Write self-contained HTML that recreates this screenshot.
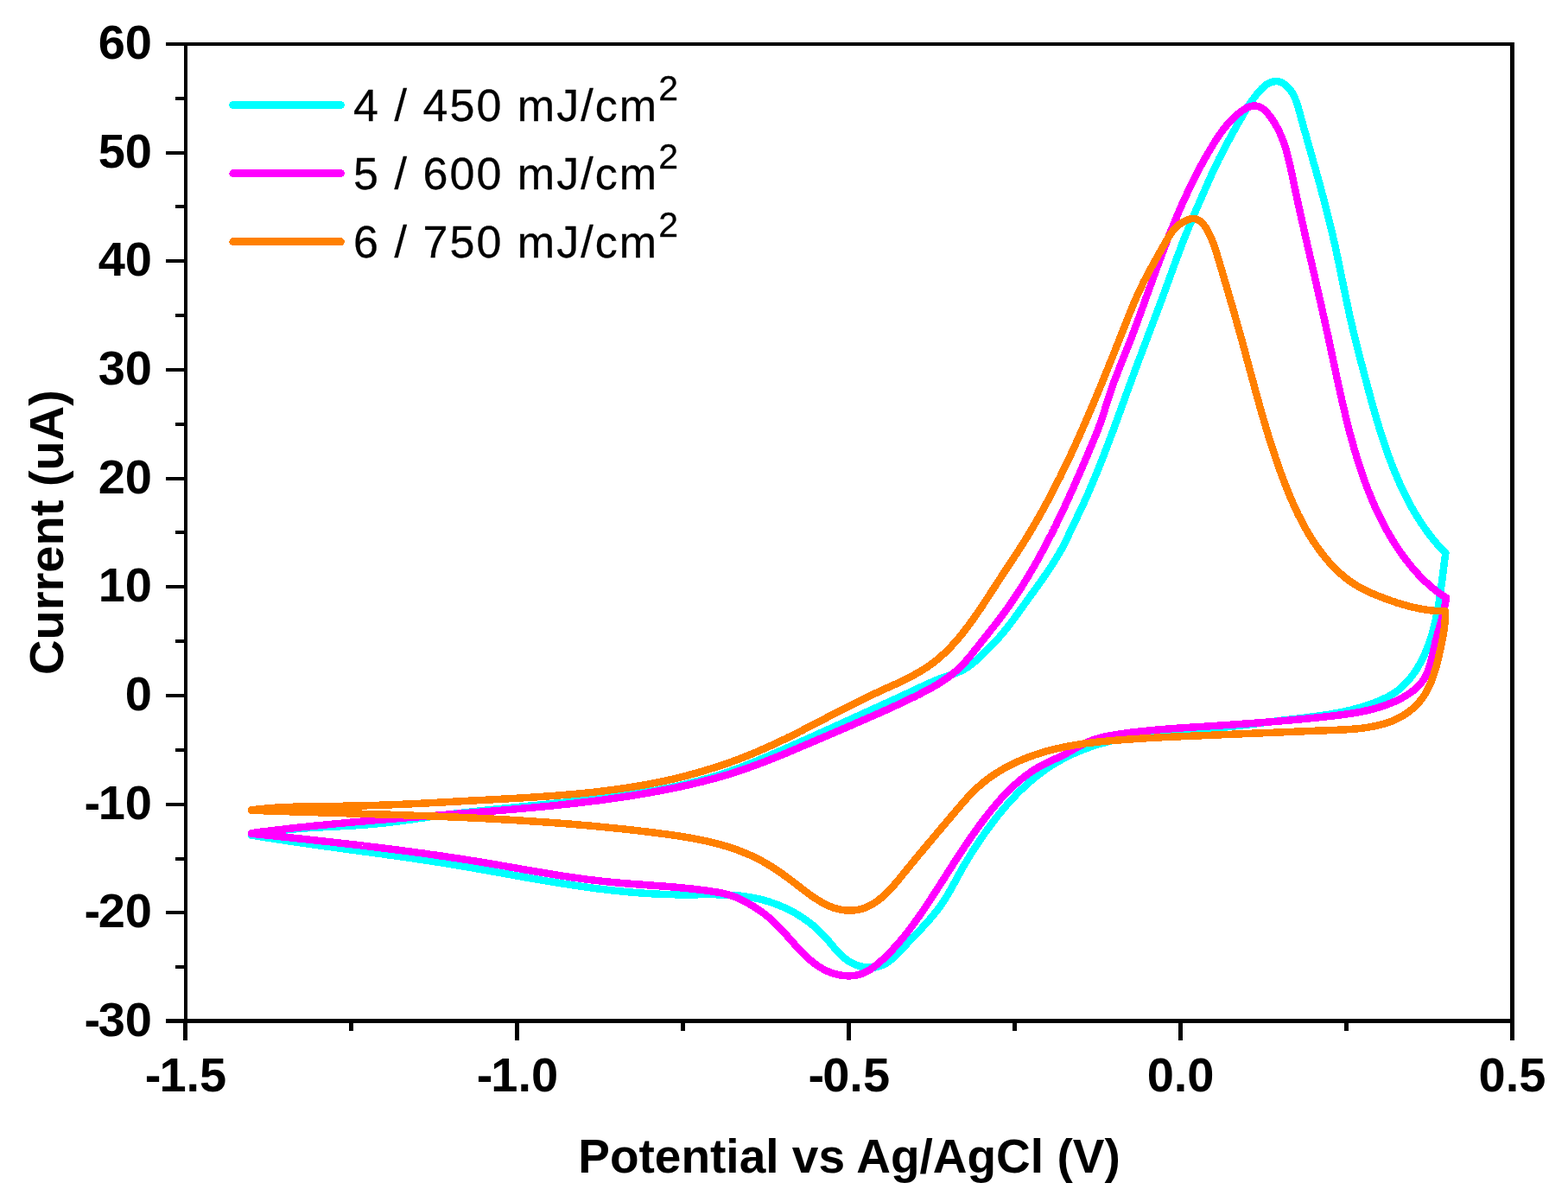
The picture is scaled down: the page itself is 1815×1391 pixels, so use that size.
<!DOCTYPE html><html><head><meta charset="utf-8"><title>CV plot</title><style>html,body{margin:0;padding:0;background:#fff;}svg{display:block;}text{font-family:"Liberation Sans",Arial,sans-serif;}</style></head><body>
<svg width="1815" height="1391" viewBox="0 0 1815 1391">
<rect x="0" y="0" width="1815" height="1391" fill="#fff"/>
<path d="M291.0 967.0 L293.9 966.4 L296.9 965.7 L299.9 965.1 L302.8 964.6 L305.8 964.0 L308.7 963.5 L311.7 963.0 L314.7 962.5 L317.6 962.1 L320.6 961.7 L323.6 961.3 L326.6 960.9 L329.5 960.6 L332.5 960.3 L335.5 960.0 L338.5 959.7 L341.5 959.4 L344.5 959.1 L347.5 958.9 L350.5 958.7 L353.5 958.4 L356.5 958.2 L359.5 958.0 L362.5 957.9 L365.5 957.7 L368.5 957.5 L371.5 957.4 L374.5 957.2 L377.5 957.0 L380.5 956.9 L383.5 956.7 L386.5 956.6 L389.5 956.5 L392.5 956.3 L395.5 956.2 L398.5 956.0 L401.5 955.8 L404.5 955.7 L407.5 955.5 L410.5 955.3 L413.5 955.2 L416.5 955.0 L419.5 954.8 L422.5 954.5 L425.5 954.3 L428.5 954.1 L431.5 953.8 L434.5 953.5 L437.5 953.2 L440.5 952.9 L443.4 952.6 L446.4 952.3 L449.4 951.9 L452.4 951.6 L455.4 951.2 L458.4 950.8 L461.3 950.4 L464.3 950.0 L467.3 949.6 L470.3 949.2 L473.2 948.8 L476.2 948.4 L479.2 948.0 L482.2 947.5 L485.1 947.1 L488.1 946.7 L491.1 946.3 L494.1 945.9 L497.1 945.4 L500.0 945.0 L503.0 944.6 L506.0 944.2 L509.0 943.8 L511.9 943.5 L514.9 943.1 L517.9 942.7 L520.9 942.3 L523.9 942.0 L526.8 941.6 L529.8 941.3 L532.8 940.9 L535.8 940.6 L538.8 940.2 L541.8 939.9 L544.7 939.5 L547.7 939.2 L550.7 938.9 L553.7 938.6 L556.7 938.2 L559.7 937.9 L562.7 937.6 L565.6 937.3 L568.6 937.0 L571.6 936.7 L574.6 936.4 L577.6 936.1 L580.6 935.8 L583.6 935.5 L586.6 935.2 L589.5 934.9 L592.5 934.6 L595.5 934.3 L598.5 934.0 L601.5 933.7 L604.5 933.4 L607.5 933.1 L610.5 932.8 L613.5 932.5 L616.4 932.3 L619.4 932.0 L622.4 931.7 L625.4 931.4 L628.4 931.1 L631.4 930.8 L634.4 930.5 L637.4 930.2 L640.4 929.9 L643.3 929.6 L646.3 929.3 L649.3 929.0 L652.3 928.7 L655.3 928.4 L658.3 928.1 L661.3 927.7 L664.3 927.4 L667.3 927.1 L670.2 926.8 L673.2 926.5 L676.2 926.1 L679.2 925.8 L682.2 925.4 L685.2 925.1 L688.2 924.8 L691.2 924.4 L694.1 924.1 L697.1 923.7 L700.1 923.3 L703.1 923.0 L706.1 922.6 L709.1 922.2 L712.0 921.8 L715.0 921.4 L718.0 921.0 L721.0 920.6 L724.0 920.2 L726.9 919.8 L729.9 919.3 L732.9 918.9 L735.9 918.4 L738.8 918.0 L741.8 917.5 L744.8 917.0 L747.7 916.5 L750.7 916.0 L753.7 915.5 L756.6 915.0 L759.6 914.5 L762.5 913.9 L765.5 913.4 L768.4 912.8 L771.4 912.2 L774.3 911.7 L777.2 911.0 L780.2 910.4 L783.1 909.8 L786.0 909.2 L789.0 908.5 L791.9 907.8 L794.8 907.2 L797.7 906.5 L800.6 905.7 L803.5 905.0 L806.4 904.3 L809.3 903.5 L812.2 902.7 L815.1 901.9 L818.0 901.1 L820.9 900.3 L823.7 899.5 L826.6 898.6 L829.5 897.7 L832.3 896.8 L835.2 895.9 L838.0 895.0 L840.9 894.0 L843.7 893.0 L846.5 892.0 L849.4 891.0 L852.2 890.0 L855.0 888.9 L857.8 887.9 L860.6 886.8 L863.4 885.7 L866.2 884.6 L869.0 883.4 L871.8 882.3 L874.6 881.2 L877.4 880.0 L880.2 878.8 L882.9 877.7 L885.7 876.5 L888.5 875.3 L891.2 874.1 L894.0 872.9 L896.8 871.7 L899.5 870.5 L902.3 869.3 L905.0 868.1 L907.8 866.9 L910.6 865.6 L913.3 864.4 L916.0 863.2 L918.8 862.0 L921.5 860.8 L924.3 859.6 L927.0 858.3 L929.8 857.1 L932.5 855.9 L935.2 854.7 L938.0 853.4 L940.7 852.2 L943.5 851.0 L946.2 849.7 L948.9 848.5 L951.7 847.3 L954.4 846.1 L957.1 844.8 L959.9 843.6 L962.6 842.3 L965.3 841.1 L968.1 839.9 L970.8 838.6 L973.5 837.4 L976.2 836.2 L979.0 834.9 L981.7 833.7 L984.4 832.4 L987.2 831.2 L989.9 830.0 L992.6 828.7 L995.4 827.5 L998.1 826.2 L1000.8 825.0 L1003.6 823.8 L1006.3 822.5 L1009.0 821.3 L1011.8 820.0 L1014.5 818.8 L1017.2 817.5 L1020.0 816.3 L1022.7 815.1 L1025.5 813.8 L1028.2 812.6 L1030.9 811.3 L1033.7 810.1 L1036.4 808.8 L1039.1 807.6 L1041.9 806.3 L1044.6 805.0 L1047.3 803.8 L1050.1 802.5 L1052.8 801.2 L1055.5 800.0 L1058.2 798.7 L1060.9 797.4 L1063.6 796.1 L1066.3 794.8 L1069.1 793.6 L1071.8 792.3 L1074.5 791.1 L1077.3 789.9 L1080.0 788.7 L1082.8 787.5 L1085.6 786.4 L1088.4 785.3 L1091.3 784.3 L1094.1 783.3 L1097.0 782.4 L1099.9 781.4 L1102.7 780.4 L1105.6 779.3 L1108.3 778.2 L1111.1 777.0 L1113.8 775.8 L1116.4 774.4 L1118.9 772.9 L1121.4 771.3 L1123.7 769.5 L1126.0 767.7 L1128.3 765.7 L1130.5 763.7 L1132.7 761.6 L1134.9 759.5 L1137.0 757.3 L1139.2 755.2 L1141.4 753.0 L1143.6 750.9 L1145.8 748.8 L1148.0 746.7 L1150.1 744.5 L1152.2 742.3 L1154.3 740.1 L1156.3 737.9 L1158.2 735.6 L1160.2 733.3 L1162.1 731.0 L1164.0 728.7 L1165.8 726.4 L1167.7 724.0 L1169.5 721.7 L1171.3 719.3 L1173.1 716.9 L1174.8 714.5 L1176.6 712.1 L1178.4 709.6 L1180.1 707.2 L1181.8 704.8 L1183.6 702.3 L1185.3 699.9 L1187.1 697.5 L1188.8 695.0 L1190.6 692.6 L1192.3 690.1 L1194.1 687.7 L1195.9 685.3 L1197.7 682.8 L1199.4 680.4 L1201.2 677.9 L1202.9 675.5 L1204.7 673.0 L1206.4 670.6 L1208.2 668.1 L1209.9 665.6 L1211.6 663.1 L1213.3 660.6 L1214.9 658.1 L1216.6 655.6 L1218.2 653.1 L1219.8 650.6 L1221.4 648.0 L1223.0 645.5 L1224.5 642.9 L1226.0 640.3 L1227.5 637.7 L1229.0 635.1 L1230.4 632.5 L1231.8 629.8 L1233.1 627.1 L1234.4 624.5 L1235.7 621.8 L1237.0 619.1 L1238.2 616.3 L1239.5 613.6 L1240.8 610.9 L1242.1 608.2 L1243.4 605.5 L1244.7 602.8 L1246.0 600.1 L1247.3 597.4 L1248.6 594.7 L1249.9 592.0 L1251.2 589.3 L1252.5 586.6 L1253.7 583.9 L1255.0 581.1 L1256.2 578.4 L1257.4 575.6 L1258.6 572.9 L1259.9 570.2 L1261.0 567.4 L1262.2 564.6 L1263.4 561.9 L1264.6 559.1 L1265.7 556.4 L1266.9 553.6 L1268.0 550.8 L1269.2 548.0 L1270.3 545.3 L1271.4 542.5 L1272.6 539.7 L1273.7 536.9 L1274.8 534.1 L1275.9 531.3 L1277.0 528.5 L1278.1 525.7 L1279.1 522.9 L1280.2 520.1 L1281.3 517.3 L1282.3 514.5 L1283.4 511.7 L1284.5 508.9 L1285.5 506.1 L1286.6 503.2 L1287.6 500.4 L1288.7 497.6 L1289.7 494.8 L1290.7 492.0 L1291.8 489.1 L1292.8 486.3 L1293.8 483.5 L1294.9 480.7 L1295.9 477.8 L1296.9 475.0 L1298.0 472.2 L1299.0 469.4 L1300.0 466.5 L1301.0 463.7 L1302.1 460.9 L1303.1 458.1 L1304.1 455.2 L1305.1 452.4 L1306.2 449.6 L1307.2 446.8 L1308.2 443.9 L1309.3 441.1 L1310.3 438.3 L1311.3 435.5 L1312.4 432.7 L1313.4 429.8 L1314.4 427.0 L1315.5 424.2 L1316.5 421.4 L1317.6 418.6 L1318.6 415.8 L1319.7 413.0 L1320.8 410.2 L1321.8 407.3 L1322.9 404.5 L1323.9 401.7 L1325.0 398.9 L1326.1 396.1 L1327.1 393.3 L1328.2 390.5 L1329.2 387.7 L1330.3 384.9 L1331.4 382.1 L1332.4 379.3 L1333.5 376.5 L1334.6 373.7 L1335.6 370.8 L1336.7 368.0 L1337.7 365.2 L1338.8 362.4 L1339.9 359.6 L1340.9 356.8 L1342.0 354.0 L1343.0 351.2 L1344.1 348.4 L1345.1 345.5 L1346.2 342.7 L1347.2 339.9 L1348.2 337.1 L1349.3 334.3 L1350.3 331.5 L1351.3 328.6 L1352.3 325.8 L1353.4 323.0 L1354.4 320.2 L1355.4 317.3 L1356.4 314.5 L1357.5 311.7 L1358.5 308.9 L1359.5 306.1 L1360.5 303.2 L1361.6 300.4 L1362.6 297.6 L1363.7 294.8 L1364.7 292.0 L1365.8 289.2 L1366.8 286.3 L1367.9 283.5 L1369.0 280.7 L1370.1 277.9 L1371.2 275.1 L1372.3 272.3 L1373.4 269.6 L1374.6 266.8 L1375.7 264.0 L1376.8 261.2 L1378.0 258.4 L1379.2 255.7 L1380.3 252.9 L1381.5 250.1 L1382.7 247.4 L1383.8 244.6 L1385.0 241.8 L1386.2 239.1 L1387.4 236.3 L1388.6 233.6 L1389.8 230.8 L1391.0 228.1 L1392.2 225.3 L1393.4 222.6 L1394.6 219.8 L1395.8 217.1 L1397.0 214.4 L1398.2 211.6 L1399.4 208.9 L1400.6 206.2 L1401.8 203.4 L1403.1 200.7 L1404.3 198.0 L1405.6 195.3 L1406.9 192.5 L1408.2 189.8 L1409.5 187.1 L1410.8 184.4 L1412.2 181.7 L1413.6 179.0 L1414.9 176.4 L1416.3 173.7 L1417.7 171.0 L1419.1 168.3 L1420.5 165.7 L1421.9 163.0 L1423.4 160.4 L1424.8 157.7 L1426.3 155.1 L1427.7 152.5 L1429.2 149.8 L1430.7 147.2 L1432.1 144.6 L1433.6 142.0 L1435.1 139.4 L1436.6 136.9 L1438.0 134.3 L1439.5 131.7 L1441.1 129.2 L1442.6 126.7 L1444.2 124.1 L1445.8 121.6 L1447.4 119.1 L1449.1 116.6 L1450.9 114.2 L1452.7 111.7 L1454.6 109.3 L1456.6 106.9 L1458.6 104.5 L1460.8 102.2 L1463.1 100.1 L1465.5 98.2 L1468.1 96.6 L1470.8 95.3 L1473.6 94.5 L1476.3 94.1 L1479.1 94.2 L1481.7 94.8 L1484.3 95.9 L1486.7 97.4 L1489.0 99.2 L1491.2 101.3 L1493.2 103.7 L1495.0 106.2 L1496.6 108.8 L1498.0 111.5 L1499.2 114.2 L1500.3 117.0 L1501.3 119.9 L1502.2 122.8 L1503.1 125.7 L1503.9 128.6 L1504.7 131.5 L1505.5 134.4 L1506.3 137.3 L1507.1 140.3 L1507.9 143.2 L1508.7 146.1 L1509.5 149.0 L1510.3 151.9 L1511.2 154.8 L1512.0 157.7 L1512.8 160.6 L1513.6 163.5 L1514.4 166.4 L1515.2 169.3 L1516.1 172.2 L1516.9 175.1 L1517.7 178.0 L1518.5 180.9 L1519.3 183.7 L1520.1 186.6 L1520.9 189.5 L1521.8 192.4 L1522.6 195.3 L1523.4 198.2 L1524.2 201.1 L1525.0 204.0 L1525.8 206.9 L1526.6 209.8 L1527.4 212.6 L1528.2 215.5 L1528.9 218.4 L1529.7 221.3 L1530.5 224.2 L1531.3 227.1 L1532.1 230.0 L1532.8 232.9 L1533.6 235.8 L1534.3 238.7 L1535.1 241.6 L1535.8 244.5 L1536.6 247.4 L1537.3 250.3 L1538.0 253.2 L1538.8 256.1 L1539.5 259.0 L1540.2 261.9 L1540.9 264.8 L1541.6 267.8 L1542.3 270.7 L1542.9 273.6 L1543.6 276.5 L1544.3 279.4 L1544.9 282.4 L1545.6 285.3 L1546.2 288.2 L1546.9 291.2 L1547.5 294.1 L1548.1 297.1 L1548.7 300.0 L1549.3 302.9 L1550.0 305.9 L1550.6 308.8 L1551.2 311.8 L1551.8 314.7 L1552.4 317.7 L1553.0 320.6 L1553.6 323.6 L1554.2 326.5 L1554.8 329.5 L1555.4 332.4 L1556.0 335.4 L1556.6 338.3 L1557.2 341.3 L1557.8 344.2 L1558.4 347.1 L1559.1 350.1 L1559.7 353.0 L1560.3 356.0 L1561.0 358.9 L1561.6 361.8 L1562.2 364.8 L1562.9 367.7 L1563.6 370.6 L1564.2 373.6 L1564.9 376.5 L1565.6 379.4 L1566.3 382.3 L1567.0 385.3 L1567.7 388.2 L1568.4 391.1 L1569.1 394.0 L1569.8 396.9 L1570.6 399.8 L1571.3 402.7 L1572.0 405.7 L1572.8 408.6 L1573.5 411.5 L1574.3 414.4 L1575.0 417.3 L1575.8 420.2 L1576.6 423.1 L1577.3 426.0 L1578.1 428.9 L1578.8 431.8 L1579.6 434.7 L1580.4 437.6 L1581.2 440.5 L1581.9 443.4 L1582.7 446.3 L1583.5 449.2 L1584.3 452.1 L1585.0 455.0 L1585.8 457.9 L1586.6 460.8 L1587.4 463.7 L1588.2 466.6 L1589.0 469.5 L1589.8 472.4 L1590.7 475.3 L1591.5 478.2 L1592.3 481.1 L1593.2 484.0 L1594.0 486.8 L1594.9 489.7 L1595.7 492.6 L1596.6 495.5 L1597.5 498.3 L1598.4 501.2 L1599.3 504.1 L1600.2 506.9 L1601.2 509.8 L1602.1 512.6 L1603.1 515.5 L1604.0 518.3 L1605.0 521.1 L1606.0 524.0 L1607.0 526.8 L1608.1 529.6 L1609.1 532.4 L1610.2 535.2 L1611.3 538.0 L1612.4 540.8 L1613.5 543.6 L1614.6 546.4 L1615.8 549.2 L1616.9 551.9 L1618.1 554.7 L1619.3 557.5 L1620.5 560.2 L1621.8 562.9 L1623.1 565.7 L1624.4 568.4 L1625.7 571.1 L1627.0 573.8 L1628.4 576.5 L1629.7 579.1 L1631.1 581.8 L1632.6 584.4 L1634.0 587.1 L1635.5 589.7 L1637.0 592.3 L1638.5 594.9 L1640.1 597.4 L1641.7 600.0 L1643.3 602.5 L1644.9 605.0 L1646.6 607.5 L1648.3 610.0 L1650.0 612.4 L1651.8 614.9 L1653.6 617.3 L1655.4 619.7 L1657.2 622.0 L1659.1 624.4 L1661.0 626.7 L1663.0 629.0 L1664.9 631.2 L1666.9 633.5 L1669.0 635.7 L1671.1 637.9 L1673.4 640.1 L1672.9 643.1 L1672.5 646.0 L1672.1 648.9 L1671.7 651.8 L1671.4 654.8 L1671.0 657.8 L1670.6 660.7 L1670.2 663.7 L1669.9 666.7 L1669.5 669.7 L1669.1 672.7 L1668.7 675.7 L1668.3 678.7 L1667.9 681.7 L1667.5 684.7 L1667.1 687.7 L1666.6 690.7 L1666.2 693.7 L1665.7 696.7 L1665.2 699.7 L1664.7 702.6 L1664.2 705.6 L1663.6 708.6 L1663.0 711.6 L1662.4 714.5 L1661.8 717.5 L1661.1 720.4 L1660.4 723.4 L1659.7 726.3 L1658.9 729.2 L1658.1 732.1 L1657.3 735.0 L1656.4 737.9 L1655.5 740.7 L1654.5 743.6 L1653.5 746.4 L1652.4 749.2 L1651.3 752.0 L1650.1 754.7 L1648.9 757.4 L1647.7 760.2 L1646.3 762.9 L1645.0 765.5 L1643.5 768.2 L1642.0 770.8 L1640.5 773.4 L1638.8 775.9 L1637.2 778.4 L1635.4 780.9 L1633.6 783.3 L1631.7 785.6 L1629.8 787.9 L1627.7 790.1 L1625.7 792.3 L1623.5 794.3 L1621.3 796.3 L1619.0 798.2 L1616.6 800.1 L1614.2 801.8 L1611.6 803.4 L1609.0 804.9 L1606.4 806.4 L1603.7 807.7 L1600.9 809.0 L1598.2 810.3 L1595.4 811.4 L1592.6 812.6 L1589.7 813.7 L1586.9 814.7 L1584.1 815.7 L1581.2 816.6 L1578.3 817.6 L1575.5 818.4 L1572.6 819.3 L1569.7 820.1 L1566.8 820.8 L1563.9 821.6 L1560.9 822.3 L1558.0 822.9 L1555.1 823.6 L1552.1 824.2 L1549.2 824.8 L1546.2 825.3 L1543.3 825.8 L1540.3 826.4 L1537.3 826.9 L1534.3 827.3 L1531.3 827.8 L1528.4 828.2 L1525.4 828.6 L1522.4 829.1 L1519.4 829.4 L1516.4 829.8 L1513.4 830.2 L1510.4 830.6 L1507.4 830.9 L1504.4 831.3 L1501.4 831.7 L1498.4 832.0 L1495.4 832.3 L1492.4 832.7 L1489.4 833.1 L1486.4 833.4 L1483.4 833.8 L1480.4 834.1 L1477.4 834.5 L1474.5 834.8 L1471.5 835.2 L1468.5 835.6 L1465.5 836.0 L1462.5 836.3 L1459.6 836.7 L1456.6 837.1 L1453.6 837.4 L1450.6 837.8 L1447.7 838.2 L1444.7 838.5 L1441.7 838.9 L1438.7 839.2 L1435.8 839.6 L1432.8 840.0 L1429.8 840.3 L1426.8 840.6 L1423.8 841.0 L1420.9 841.3 L1417.9 841.7 L1414.9 842.0 L1411.9 842.3 L1408.9 842.6 L1405.9 842.9 L1402.9 843.2 L1399.9 843.5 L1396.9 843.8 L1393.9 844.1 L1390.9 844.4 L1387.9 844.6 L1384.9 844.9 L1381.9 845.2 L1378.9 845.4 L1375.9 845.7 L1372.8 845.9 L1369.8 846.1 L1366.8 846.4 L1363.8 846.6 L1360.8 846.9 L1357.8 847.1 L1354.7 847.4 L1351.7 847.7 L1348.7 848.0 L1345.7 848.2 L1342.7 848.5 L1339.7 848.8 L1336.7 849.1 L1333.7 849.5 L1330.7 849.8 L1327.7 850.2 L1324.7 850.5 L1321.7 850.9 L1318.7 851.3 L1315.7 851.8 L1312.7 852.2 L1309.8 852.7 L1306.8 853.2 L1303.8 853.7 L1300.9 854.3 L1297.9 854.8 L1295.0 855.4 L1292.0 856.1 L1289.1 856.7 L1286.2 857.4 L1283.3 858.1 L1280.4 858.9 L1277.5 859.7 L1274.6 860.5 L1271.7 861.3 L1268.8 862.2 L1266.0 863.1 L1263.1 864.1 L1260.3 865.1 L1257.5 866.1 L1254.7 867.2 L1251.9 868.3 L1249.1 869.4 L1246.3 870.6 L1243.6 871.8 L1240.9 873.0 L1238.1 874.3 L1235.5 875.6 L1232.8 877.0 L1230.1 878.4 L1227.5 879.8 L1224.9 881.3 L1222.3 882.8 L1219.7 884.3 L1217.2 885.9 L1214.7 887.5 L1212.2 889.2 L1209.7 890.9 L1207.3 892.6 L1204.9 894.4 L1202.5 896.2 L1200.1 898.0 L1197.8 899.9 L1195.5 901.8 L1193.2 903.8 L1190.9 905.8 L1188.6 907.8 L1186.4 909.8 L1184.2 911.9 L1182.0 914.0 L1179.9 916.1 L1177.7 918.2 L1175.6 920.4 L1173.5 922.6 L1171.5 924.8 L1169.4 927.1 L1167.4 929.3 L1165.4 931.6 L1163.4 933.9 L1161.5 936.2 L1159.5 938.5 L1157.6 940.9 L1155.7 943.2 L1153.8 945.6 L1151.9 948.0 L1150.1 950.4 L1148.3 952.8 L1146.4 955.2 L1144.7 957.6 L1142.9 960.0 L1141.1 962.5 L1139.4 964.9 L1137.7 967.4 L1136.0 969.8 L1134.3 972.3 L1132.6 974.8 L1131.0 977.2 L1129.3 979.7 L1127.7 982.2 L1126.1 984.7 L1124.5 987.3 L1122.9 989.8 L1121.4 992.3 L1119.8 994.9 L1118.3 997.5 L1116.7 1000.0 L1115.2 1002.6 L1113.7 1005.2 L1112.3 1007.8 L1110.8 1010.5 L1109.3 1013.1 L1107.9 1015.8 L1106.4 1018.4 L1105.0 1021.1 L1103.6 1023.8 L1102.1 1026.4 L1100.6 1029.1 L1099.1 1031.7 L1097.6 1034.3 L1096.1 1036.9 L1094.5 1039.4 L1092.9 1042.0 L1091.3 1044.5 L1089.6 1046.9 L1087.9 1049.4 L1086.1 1051.7 L1084.3 1054.1 L1082.4 1056.4 L1080.6 1058.7 L1078.7 1061.0 L1076.7 1063.3 L1074.8 1065.5 L1072.8 1067.8 L1070.8 1070.0 L1068.7 1072.2 L1066.7 1074.4 L1064.6 1076.6 L1062.5 1078.8 L1060.4 1081.0 L1058.3 1083.2 L1056.2 1085.5 L1054.1 1087.7 L1051.9 1089.9 L1049.8 1092.2 L1047.6 1094.5 L1045.5 1096.8 L1043.4 1099.1 L1041.2 1101.4 L1039.0 1103.6 L1036.8 1105.8 L1034.6 1107.9 L1032.3 1109.9 L1030.0 1111.8 L1027.6 1113.5 L1025.1 1115.1 L1022.5 1116.4 L1019.9 1117.5 L1017.2 1118.4 L1014.4 1119.1 L1011.6 1119.5 L1008.7 1119.7 L1005.8 1119.7 L1002.8 1119.5 L999.9 1119.1 L997.0 1118.5 L994.1 1117.8 L991.3 1116.8 L988.5 1115.7 L985.8 1114.3 L983.2 1112.9 L980.7 1111.2 L978.3 1109.4 L976.0 1107.5 L973.7 1105.5 L971.6 1103.4 L969.5 1101.1 L967.5 1098.9 L965.4 1096.5 L963.5 1094.2 L961.5 1091.8 L959.5 1089.4 L957.5 1087.1 L955.4 1084.8 L953.4 1082.5 L951.2 1080.3 L949.1 1078.2 L946.8 1076.1 L944.6 1074.0 L942.3 1072.0 L940.0 1070.1 L937.6 1068.2 L935.2 1066.4 L932.7 1064.6 L930.3 1062.9 L927.8 1061.2 L925.2 1059.6 L922.7 1058.0 L920.1 1056.5 L917.4 1055.0 L914.8 1053.6 L912.1 1052.3 L909.4 1051.0 L906.7 1049.8 L903.9 1048.6 L901.1 1047.4 L898.4 1046.4 L895.5 1045.3 L892.7 1044.4 L889.9 1043.4 L887.0 1042.6 L884.1 1041.8 L881.2 1041.0 L878.3 1040.3 L875.4 1039.7 L872.5 1039.1 L869.6 1038.5 L866.6 1038.0 L863.7 1037.6 L860.7 1037.2 L857.8 1036.8 L854.8 1036.5 L851.8 1036.3 L848.9 1036.0 L845.9 1035.8 L842.9 1035.7 L839.9 1035.5 L836.9 1035.4 L833.9 1035.3 L830.9 1035.3 L827.8 1035.2 L824.8 1035.2 L821.8 1035.2 L818.8 1035.2 L815.8 1035.2 L812.7 1035.2 L809.7 1035.2 L806.7 1035.3 L803.6 1035.3 L800.6 1035.3 L797.6 1035.3 L794.6 1035.4 L791.5 1035.4 L788.5 1035.4 L785.5 1035.3 L782.5 1035.3 L779.4 1035.2 L776.4 1035.2 L773.4 1035.1 L770.4 1035.0 L767.4 1034.9 L764.4 1034.8 L761.3 1034.6 L758.3 1034.5 L755.3 1034.3 L752.3 1034.2 L749.3 1034.0 L746.3 1033.8 L743.3 1033.6 L740.3 1033.4 L737.3 1033.1 L734.3 1032.9 L731.3 1032.6 L728.3 1032.4 L725.3 1032.1 L722.3 1031.8 L719.3 1031.5 L716.4 1031.2 L713.4 1030.9 L710.4 1030.6 L707.4 1030.3 L704.4 1029.9 L701.4 1029.6 L698.4 1029.2 L695.5 1028.8 L692.5 1028.5 L689.5 1028.1 L686.5 1027.7 L683.5 1027.3 L680.6 1026.9 L677.6 1026.5 L674.6 1026.0 L671.6 1025.6 L668.7 1025.2 L665.7 1024.7 L662.7 1024.3 L659.7 1023.8 L656.8 1023.4 L653.8 1022.9 L650.8 1022.5 L647.9 1022.0 L644.9 1021.5 L641.9 1021.0 L639.0 1020.5 L636.0 1020.0 L633.0 1019.6 L630.1 1019.1 L627.1 1018.6 L624.1 1018.0 L621.2 1017.5 L618.2 1017.0 L615.2 1016.5 L612.3 1016.0 L609.3 1015.5 L606.3 1015.0 L603.4 1014.4 L600.4 1013.9 L597.4 1013.4 L594.5 1012.9 L591.5 1012.3 L588.5 1011.8 L585.6 1011.3 L582.6 1010.7 L579.7 1010.2 L576.7 1009.7 L573.7 1009.2 L570.8 1008.6 L567.8 1008.1 L564.8 1007.6 L561.9 1007.0 L558.9 1006.5 L555.9 1006.0 L553.0 1005.5 L550.0 1005.0 L547.0 1004.4 L544.1 1003.9 L541.1 1003.4 L538.1 1002.9 L535.2 1002.4 L532.2 1001.9 L529.2 1001.4 L526.3 1000.9 L523.3 1000.4 L520.3 999.9 L517.4 999.4 L514.4 999.0 L511.4 998.5 L508.4 998.0 L505.5 997.5 L502.5 997.1 L499.5 996.6 L496.5 996.2 L493.6 995.7 L490.6 995.3 L487.6 994.8 L484.6 994.4 L481.7 993.9 L478.7 993.5 L475.7 993.1 L472.7 992.6 L469.8 992.2 L466.8 991.8 L463.8 991.4 L460.8 990.9 L457.8 990.5 L454.9 990.1 L451.9 989.7 L448.9 989.3 L445.9 988.9 L442.9 988.4 L440.0 988.0 L437.0 987.6 L434.0 987.2 L431.0 986.8 L428.0 986.4 L425.1 986.0 L422.1 985.6 L419.1 985.2 L416.1 984.8 L413.1 984.4 L410.1 984.0 L407.2 983.6 L404.2 983.2 L401.2 982.8 L398.2 982.4 L395.2 982.0 L392.3 981.6 L389.3 981.1 L386.3 980.7 L383.3 980.3 L380.3 979.9 L377.3 979.5 L374.4 979.1 L371.4 978.7 L368.4 978.3 L365.4 977.9 L362.4 977.4 L359.5 977.0 L356.5 976.6 L353.5 976.2 L350.5 975.7 L347.6 975.3 L344.6 974.9 L341.6 974.5 L338.6 974.0 L335.6 973.6 L332.7 973.1 L329.7 972.7 L326.7 972.2 L323.7 971.8 L320.8 971.3 L317.8 970.9 L314.8 970.4 L311.9 969.9 L308.9 969.5 L305.9 969.0 L302.9 968.5 L300.0 968.0 L297.0 967.5 L294.0 967.0 L291.1 966.5" fill="none" stroke="#00ffff" stroke-width="8.5" stroke-linejoin="round" stroke-linecap="round" shape-rendering="crispEdges"/>
<path d="M290.9 964.2 L293.9 963.8 L296.9 963.4 L299.9 963.0 L302.9 962.6 L305.9 962.3 L308.9 961.9 L311.9 961.5 L314.8 961.2 L317.8 960.8 L320.8 960.5 L323.8 960.1 L326.8 959.8 L329.8 959.4 L332.8 959.1 L335.8 958.7 L338.8 958.4 L341.7 958.1 L344.7 957.7 L347.7 957.4 L350.7 957.1 L353.7 956.8 L356.7 956.5 L359.7 956.2 L362.7 955.9 L365.7 955.5 L368.7 955.2 L371.6 954.9 L374.6 954.7 L377.6 954.4 L380.6 954.1 L383.6 953.8 L386.6 953.5 L389.6 953.2 L392.6 952.9 L395.6 952.7 L398.6 952.4 L401.6 952.1 L404.6 951.8 L407.6 951.6 L410.6 951.3 L413.6 951.0 L416.5 950.8 L419.5 950.5 L422.5 950.3 L425.5 950.0 L428.5 949.8 L431.5 949.5 L434.5 949.2 L437.5 949.0 L440.5 948.7 L443.5 948.5 L446.5 948.3 L449.5 948.0 L452.5 947.8 L455.5 947.5 L458.5 947.3 L461.5 947.0 L464.5 946.8 L467.5 946.6 L470.5 946.3 L473.5 946.1 L476.5 945.9 L479.5 945.6 L482.5 945.4 L485.5 945.2 L488.5 944.9 L491.5 944.7 L494.5 944.5 L497.5 944.2 L500.5 944.0 L503.4 943.8 L506.4 943.5 L509.4 943.3 L512.4 943.1 L515.4 942.8 L518.4 942.6 L521.4 942.4 L524.4 942.1 L527.4 941.9 L530.4 941.7 L533.4 941.5 L536.4 941.2 L539.4 941.0 L542.4 940.8 L545.4 940.5 L548.4 940.3 L551.4 940.0 L554.4 939.8 L557.4 939.6 L560.4 939.3 L563.4 939.1 L566.4 938.9 L569.5 938.6 L572.5 938.4 L575.5 938.1 L578.5 937.9 L581.5 937.6 L584.5 937.4 L587.5 937.1 L590.5 936.9 L593.5 936.6 L596.5 936.4 L599.5 936.1 L602.5 935.8 L605.5 935.6 L608.5 935.3 L611.5 935.0 L614.5 934.8 L617.5 934.5 L620.5 934.2 L623.5 933.9 L626.4 933.7 L629.4 933.4 L632.4 933.1 L635.4 932.8 L638.4 932.5 L641.4 932.2 L644.4 931.9 L647.4 931.6 L650.4 931.2 L653.4 930.9 L656.4 930.6 L659.4 930.3 L662.4 929.9 L665.4 929.6 L668.4 929.3 L671.3 928.9 L674.3 928.6 L677.3 928.2 L680.3 927.9 L683.3 927.5 L686.3 927.1 L689.3 926.7 L692.2 926.4 L695.2 926.0 L698.2 925.6 L701.2 925.2 L704.2 924.8 L707.1 924.4 L710.1 923.9 L713.1 923.5 L716.1 923.1 L719.0 922.6 L722.0 922.2 L725.0 921.7 L728.0 921.3 L730.9 920.8 L733.9 920.3 L736.9 919.9 L739.8 919.4 L742.8 918.9 L745.8 918.4 L748.7 917.9 L751.7 917.4 L754.6 916.8 L757.6 916.3 L760.5 915.8 L763.5 915.2 L766.5 914.6 L769.4 914.1 L772.4 913.5 L775.3 912.9 L778.2 912.3 L781.2 911.7 L784.1 911.1 L787.1 910.5 L790.0 909.9 L793.0 909.2 L795.9 908.6 L798.8 907.9 L801.7 907.2 L804.7 906.5 L807.6 905.9 L810.5 905.1 L813.4 904.4 L816.3 903.7 L819.2 902.9 L822.2 902.2 L825.1 901.4 L827.9 900.6 L830.8 899.8 L833.7 899.0 L836.6 898.1 L839.5 897.3 L842.4 896.4 L845.2 895.5 L848.1 894.6 L851.0 893.7 L853.8 892.8 L856.7 891.8 L859.5 890.8 L862.4 889.9 L865.2 888.9 L868.0 887.9 L870.8 886.8 L873.7 885.8 L876.5 884.8 L879.3 883.7 L882.1 882.6 L884.9 881.6 L887.7 880.5 L890.5 879.4 L893.3 878.3 L896.1 877.2 L898.9 876.0 L901.7 874.9 L904.5 873.8 L907.3 872.6 L910.1 871.5 L912.9 870.3 L915.7 869.2 L918.4 868.0 L921.2 866.8 L924.0 865.7 L926.8 864.5 L929.5 863.3 L932.3 862.1 L935.1 860.9 L937.9 859.8 L940.6 858.6 L943.4 857.4 L946.2 856.2 L948.9 855.0 L951.7 853.8 L954.5 852.7 L957.2 851.5 L960.0 850.3 L962.8 849.1 L965.5 847.9 L968.3 846.7 L971.1 845.6 L973.8 844.4 L976.6 843.2 L979.4 842.0 L982.1 840.8 L984.9 839.6 L987.6 838.4 L990.4 837.2 L993.1 836.0 L995.9 834.8 L998.6 833.6 L1001.4 832.4 L1004.1 831.2 L1006.9 830.0 L1009.6 828.8 L1012.4 827.6 L1015.1 826.4 L1017.9 825.2 L1020.6 824.0 L1023.3 822.7 L1026.1 821.5 L1028.8 820.3 L1031.5 819.0 L1034.2 817.8 L1037.0 816.5 L1039.7 815.3 L1042.4 814.0 L1045.1 812.7 L1047.9 811.4 L1050.6 810.1 L1053.3 808.8 L1056.0 807.5 L1058.7 806.2 L1061.4 804.8 L1064.1 803.5 L1066.8 802.1 L1069.5 800.7 L1072.2 799.3 L1074.9 797.9 L1077.5 796.4 L1080.2 794.9 L1082.8 793.4 L1085.4 791.9 L1087.9 790.3 L1090.4 788.6 L1092.9 787.0 L1095.4 785.3 L1097.8 783.5 L1100.2 781.7 L1102.6 779.9 L1104.9 778.0 L1107.1 776.0 L1109.3 774.0 L1111.5 772.0 L1113.6 769.8 L1115.7 767.7 L1117.7 765.4 L1119.7 763.2 L1121.6 760.9 L1123.5 758.6 L1125.4 756.2 L1127.3 753.8 L1129.2 751.5 L1131.1 749.1 L1133.0 746.7 L1134.8 744.4 L1136.7 742.0 L1138.6 739.7 L1140.5 737.3 L1142.3 735.0 L1144.2 732.6 L1146.1 730.3 L1147.9 727.9 L1149.8 725.6 L1151.6 723.2 L1153.5 720.9 L1155.3 718.5 L1157.1 716.1 L1158.9 713.7 L1160.7 711.3 L1162.5 708.9 L1164.2 706.4 L1166.0 704.0 L1167.7 701.6 L1169.4 699.1 L1171.1 696.6 L1172.8 694.1 L1174.5 691.6 L1176.2 689.1 L1177.8 686.6 L1179.4 684.1 L1181.1 681.6 L1182.7 679.0 L1184.3 676.5 L1185.9 673.9 L1187.4 671.3 L1189.0 668.8 L1190.6 666.2 L1192.1 663.6 L1193.6 661.0 L1195.2 658.4 L1196.7 655.8 L1198.2 653.2 L1199.7 650.6 L1201.1 647.9 L1202.6 645.3 L1204.1 642.7 L1205.5 640.0 L1206.9 637.4 L1208.4 634.7 L1209.8 632.0 L1211.2 629.4 L1212.6 626.7 L1213.9 624.0 L1215.3 621.4 L1216.7 618.7 L1218.0 616.0 L1219.4 613.3 L1220.7 610.6 L1222.1 607.9 L1223.4 605.2 L1224.7 602.5 L1226.0 599.8 L1227.3 597.1 L1228.6 594.4 L1229.9 591.7 L1231.1 589.0 L1232.4 586.3 L1233.7 583.5 L1234.9 580.8 L1236.2 578.1 L1237.4 575.3 L1238.7 572.6 L1239.9 569.9 L1241.1 567.1 L1242.4 564.4 L1243.6 561.6 L1244.8 558.9 L1246.0 556.1 L1247.2 553.4 L1248.4 550.6 L1249.6 547.9 L1250.8 545.1 L1252.0 542.4 L1253.2 539.6 L1254.4 536.8 L1255.5 534.1 L1256.7 531.3 L1257.9 528.5 L1259.1 525.7 L1260.2 523.0 L1261.4 520.2 L1262.6 517.4 L1263.7 514.6 L1264.9 511.9 L1266.1 509.1 L1267.2 506.3 L1268.4 503.5 L1269.5 500.7 L1270.6 497.9 L1271.7 495.1 L1272.7 492.3 L1273.8 489.5 L1274.8 486.6 L1275.8 483.8 L1276.7 480.9 L1277.6 478.1 L1278.5 475.2 L1279.4 472.3 L1280.3 469.5 L1281.2 466.6 L1282.1 463.7 L1283.0 460.9 L1283.9 458.0 L1284.8 455.2 L1285.8 452.3 L1286.7 449.5 L1287.8 446.7 L1288.8 443.8 L1289.8 441.0 L1290.9 438.2 L1292.0 435.4 L1293.1 432.6 L1294.2 429.8 L1295.3 427.0 L1296.4 424.2 L1297.5 421.4 L1298.6 418.6 L1299.7 415.8 L1300.9 413.0 L1302.0 410.2 L1303.1 407.4 L1304.2 404.6 L1305.3 401.8 L1306.4 399.0 L1307.5 396.2 L1308.6 393.4 L1309.7 390.6 L1310.8 387.8 L1311.8 385.0 L1312.9 382.1 L1313.9 379.3 L1315.0 376.5 L1316.0 373.7 L1317.1 370.9 L1318.1 368.1 L1319.2 365.2 L1320.2 362.4 L1321.2 359.6 L1322.2 356.8 L1323.3 353.9 L1324.3 351.1 L1325.3 348.3 L1326.3 345.5 L1327.3 342.6 L1328.4 339.8 L1329.4 337.0 L1330.4 334.1 L1331.4 331.3 L1332.4 328.5 L1333.4 325.7 L1334.5 322.8 L1335.5 320.0 L1336.5 317.2 L1337.5 314.4 L1338.6 311.5 L1339.6 308.7 L1340.6 305.9 L1341.7 303.1 L1342.7 300.3 L1343.8 297.5 L1344.8 294.6 L1345.9 291.8 L1346.9 289.0 L1348.0 286.2 L1349.1 283.4 L1350.1 280.6 L1351.2 277.8 L1352.3 275.0 L1353.4 272.2 L1354.5 269.4 L1355.6 266.6 L1356.8 263.8 L1357.9 261.0 L1359.0 258.2 L1360.2 255.4 L1361.3 252.7 L1362.5 249.9 L1363.7 247.1 L1364.8 244.3 L1366.0 241.6 L1367.3 238.8 L1368.5 236.0 L1369.7 233.3 L1370.9 230.5 L1372.2 227.8 L1373.5 225.1 L1374.7 222.3 L1376.0 219.6 L1377.3 216.9 L1378.6 214.2 L1379.9 211.4 L1381.3 208.7 L1382.6 206.1 L1384.0 203.4 L1385.4 200.7 L1386.8 198.0 L1388.2 195.4 L1389.6 192.7 L1391.0 190.1 L1392.5 187.5 L1393.9 184.8 L1395.4 182.2 L1396.9 179.6 L1398.4 177.0 L1399.9 174.5 L1401.4 171.9 L1403.0 169.4 L1404.5 166.8 L1406.1 164.3 L1407.7 161.8 L1409.4 159.3 L1411.0 156.8 L1412.7 154.4 L1414.5 152.0 L1416.2 149.6 L1418.1 147.2 L1420.0 144.9 L1421.9 142.7 L1424.0 140.4 L1426.1 138.2 L1428.2 136.1 L1430.5 134.0 L1432.8 132.0 L1435.3 130.0 L1437.8 128.1 L1440.4 126.4 L1443.0 124.9 L1445.7 123.7 L1448.5 122.9 L1451.2 122.5 L1454.0 122.6 L1456.7 123.2 L1459.2 124.3 L1461.7 125.8 L1463.9 127.6 L1466.1 129.7 L1468.1 132.1 L1470.1 134.5 L1471.9 137.0 L1473.6 139.6 L1475.3 142.2 L1476.8 144.8 L1478.3 147.5 L1479.7 150.1 L1481.0 152.8 L1482.2 155.6 L1483.4 158.3 L1484.5 161.1 L1485.5 163.9 L1486.5 166.7 L1487.5 169.6 L1488.4 172.4 L1489.2 175.3 L1490.0 178.2 L1490.8 181.1 L1491.5 184.0 L1492.2 186.9 L1492.9 189.9 L1493.6 192.8 L1494.2 195.7 L1494.8 198.7 L1495.5 201.6 L1496.1 204.6 L1496.7 207.6 L1497.3 210.5 L1497.9 213.5 L1498.5 216.4 L1499.2 219.4 L1499.8 222.3 L1500.4 225.3 L1501.1 228.2 L1501.7 231.2 L1502.3 234.1 L1503.0 237.0 L1503.6 240.0 L1504.3 242.9 L1504.9 245.9 L1505.6 248.8 L1506.2 251.7 L1506.9 254.7 L1507.5 257.6 L1508.2 260.6 L1508.9 263.5 L1509.5 266.4 L1510.2 269.4 L1510.8 272.3 L1511.5 275.2 L1512.2 278.2 L1512.8 281.1 L1513.5 284.0 L1514.2 287.0 L1514.8 289.9 L1515.5 292.8 L1516.2 295.8 L1516.9 298.7 L1517.5 301.6 L1518.2 304.5 L1518.9 307.5 L1519.5 310.4 L1520.2 313.3 L1520.9 316.3 L1521.6 319.2 L1522.2 322.1 L1522.9 325.0 L1523.6 328.0 L1524.2 330.9 L1524.9 333.8 L1525.6 336.8 L1526.2 339.7 L1526.9 342.6 L1527.6 345.6 L1528.2 348.5 L1528.9 351.4 L1529.6 354.3 L1530.2 357.3 L1530.9 360.2 L1531.5 363.1 L1532.2 366.1 L1532.8 369.0 L1533.5 371.9 L1534.1 374.9 L1534.8 377.8 L1535.4 380.7 L1536.1 383.7 L1536.7 386.6 L1537.4 389.5 L1538.0 392.5 L1538.6 395.4 L1539.2 398.4 L1539.9 401.3 L1540.5 404.2 L1541.1 407.2 L1541.8 410.1 L1542.4 413.1 L1543.0 416.0 L1543.6 419.0 L1544.3 421.9 L1544.9 424.8 L1545.5 427.8 L1546.1 430.7 L1546.8 433.7 L1547.4 436.6 L1548.0 439.5 L1548.7 442.5 L1549.3 445.4 L1550.0 448.4 L1550.6 451.3 L1551.3 454.2 L1551.9 457.2 L1552.6 460.1 L1553.2 463.0 L1553.9 466.0 L1554.6 468.9 L1555.3 471.8 L1556.0 474.8 L1556.7 477.7 L1557.4 480.6 L1558.1 483.5 L1558.8 486.4 L1559.5 489.4 L1560.3 492.3 L1561.0 495.2 L1561.8 498.1 L1562.5 501.0 L1563.3 503.9 L1564.1 506.8 L1564.9 509.7 L1565.7 512.6 L1566.5 515.5 L1567.3 518.4 L1568.2 521.3 L1569.0 524.2 L1569.9 527.1 L1570.8 530.0 L1571.7 532.8 L1572.6 535.7 L1573.5 538.6 L1574.4 541.4 L1575.4 544.3 L1576.3 547.2 L1577.3 550.0 L1578.3 552.9 L1579.3 555.7 L1580.3 558.5 L1581.4 561.4 L1582.5 564.2 L1583.5 567.0 L1584.6 569.8 L1585.8 572.6 L1586.9 575.4 L1588.0 578.1 L1589.2 580.9 L1590.4 583.7 L1591.6 586.4 L1592.9 589.1 L1594.1 591.9 L1595.4 594.6 L1596.7 597.3 L1598.0 600.0 L1599.4 602.7 L1600.8 605.3 L1602.1 608.0 L1603.6 610.6 L1605.0 613.2 L1606.5 615.9 L1608.0 618.5 L1609.5 621.0 L1611.0 623.6 L1612.6 626.2 L1614.2 628.7 L1615.8 631.2 L1617.5 633.7 L1619.1 636.2 L1620.8 638.7 L1622.6 641.1 L1624.3 643.6 L1626.1 646.0 L1628.0 648.4 L1629.8 650.8 L1631.7 653.1 L1633.6 655.5 L1635.6 657.8 L1637.5 660.1 L1639.5 662.3 L1641.6 664.6 L1643.6 666.8 L1645.8 668.9 L1647.9 671.1 L1650.1 673.2 L1652.3 675.2 L1654.5 677.2 L1656.8 679.2 L1659.1 681.1 L1661.4 683.0 L1663.8 684.8 L1666.2 686.6 L1668.6 688.3 L1671.1 690.0 L1673.9 691.5 L1673.5 694.5 L1673.1 697.6 L1672.5 700.6 L1672.0 703.5 L1671.4 706.5 L1670.7 709.4 L1670.0 712.2 L1669.2 715.1 L1668.5 718.0 L1667.7 720.8 L1666.9 723.6 L1666.0 726.5 L1665.2 729.3 L1664.4 732.2 L1663.6 735.1 L1662.8 738.0 L1662.0 740.9 L1661.3 743.8 L1660.6 746.8 L1659.9 749.8 L1659.3 752.8 L1658.6 755.9 L1657.9 758.9 L1657.2 761.9 L1656.5 764.9 L1655.7 767.8 L1654.8 770.8 L1653.9 773.6 L1652.9 776.4 L1651.7 779.2 L1650.5 781.9 L1649.1 784.4 L1647.5 786.9 L1645.8 789.3 L1644.0 791.6 L1642.0 793.8 L1639.9 795.8 L1637.6 797.8 L1635.3 799.7 L1632.8 801.5 L1630.3 803.2 L1627.7 804.8 L1625.1 806.4 L1622.4 807.9 L1619.7 809.3 L1617.0 810.6 L1614.2 811.9 L1611.5 813.1 L1608.7 814.2 L1605.9 815.3 L1603.1 816.3 L1600.2 817.3 L1597.4 818.2 L1594.5 819.1 L1591.6 819.9 L1588.7 820.7 L1585.8 821.4 L1582.9 822.1 L1580.0 822.7 L1577.0 823.4 L1574.1 823.9 L1571.1 824.5 L1568.1 825.0 L1565.2 825.5 L1562.2 825.9 L1559.2 826.4 L1556.2 826.8 L1553.2 827.2 L1550.2 827.6 L1547.2 827.9 L1544.2 828.3 L1541.2 828.6 L1538.2 829.0 L1535.2 829.3 L1532.2 829.6 L1529.2 830.0 L1526.2 830.3 L1523.2 830.6 L1520.2 830.9 L1517.2 831.2 L1514.2 831.5 L1511.2 831.8 L1508.2 832.1 L1505.2 832.4 L1502.3 832.6 L1499.3 832.9 L1496.3 833.2 L1493.3 833.5 L1490.3 833.7 L1487.3 834.0 L1484.3 834.2 L1481.3 834.5 L1478.3 834.7 L1475.3 835.0 L1472.3 835.2 L1469.3 835.5 L1466.4 835.7 L1463.4 835.9 L1460.4 836.2 L1457.4 836.4 L1454.4 836.6 L1451.4 836.8 L1448.4 837.1 L1445.4 837.3 L1442.4 837.5 L1439.4 837.7 L1436.4 837.9 L1433.4 838.1 L1430.5 838.3 L1427.5 838.5 L1424.5 838.7 L1421.5 838.9 L1418.5 839.1 L1415.5 839.3 L1412.5 839.5 L1409.5 839.7 L1406.5 839.9 L1403.5 840.1 L1400.5 840.3 L1397.5 840.5 L1394.5 840.7 L1391.5 840.9 L1388.5 841.1 L1385.5 841.2 L1382.5 841.4 L1379.5 841.6 L1376.5 841.8 L1373.5 842.0 L1370.5 842.2 L1367.5 842.4 L1364.5 842.6 L1361.5 842.8 L1358.5 843.0 L1355.5 843.3 L1352.5 843.5 L1349.5 843.7 L1346.5 844.0 L1343.5 844.2 L1340.5 844.5 L1337.5 844.7 L1334.5 845.0 L1331.5 845.3 L1328.5 845.6 L1325.5 845.9 L1322.5 846.2 L1319.5 846.5 L1316.5 846.8 L1313.5 847.2 L1310.5 847.5 L1307.5 847.9 L1304.5 848.3 L1301.5 848.7 L1298.5 849.1 L1295.5 849.6 L1292.5 850.0 L1289.6 850.5 L1286.6 851.0 L1283.6 851.5 L1280.7 852.1 L1277.8 852.8 L1274.8 853.5 L1272.0 854.2 L1269.1 855.1 L1266.2 856.0 L1263.4 857.0 L1260.7 858.0 L1257.9 859.2 L1255.2 860.4 L1252.5 861.8 L1249.9 863.2 L1247.2 864.6 L1244.6 866.1 L1242.0 867.6 L1239.3 869.2 L1236.7 870.6 L1234.0 872.1 L1231.4 873.5 L1228.7 874.9 L1225.9 876.2 L1223.2 877.5 L1220.5 878.7 L1217.7 880.0 L1215.0 881.2 L1212.3 882.5 L1209.6 883.8 L1206.9 885.2 L1204.3 886.6 L1201.7 888.1 L1199.1 889.6 L1196.6 891.2 L1194.1 892.8 L1191.7 894.5 L1189.2 896.3 L1186.8 898.0 L1184.5 899.9 L1182.1 901.7 L1179.8 903.6 L1177.6 905.6 L1175.3 907.6 L1173.1 909.6 L1170.9 911.7 L1168.8 913.8 L1166.6 915.9 L1164.5 918.1 L1162.4 920.2 L1160.4 922.5 L1158.3 924.7 L1156.3 927.0 L1154.3 929.2 L1152.4 931.5 L1150.4 933.9 L1148.5 936.2 L1146.6 938.6 L1144.7 940.9 L1142.8 943.3 L1140.9 945.7 L1139.1 948.1 L1137.3 950.5 L1135.5 952.9 L1133.7 955.3 L1131.9 957.8 L1130.1 960.2 L1128.4 962.7 L1126.6 965.1 L1124.9 967.6 L1123.2 970.0 L1121.5 972.5 L1119.8 975.0 L1118.1 977.5 L1116.4 980.0 L1114.8 982.5 L1113.1 985.0 L1111.5 987.5 L1109.8 990.0 L1108.2 992.5 L1106.6 995.0 L1104.9 997.5 L1103.3 1000.1 L1101.7 1002.6 L1100.1 1005.1 L1098.4 1007.6 L1096.8 1010.2 L1095.2 1012.7 L1093.6 1015.2 L1092.0 1017.7 L1090.4 1020.3 L1088.8 1022.8 L1087.1 1025.3 L1085.5 1027.8 L1083.9 1030.4 L1082.3 1032.9 L1080.6 1035.4 L1079.0 1037.9 L1077.4 1040.4 L1075.7 1042.9 L1074.1 1045.4 L1072.4 1047.9 L1070.7 1050.4 L1069.1 1052.9 L1067.4 1055.4 L1065.7 1057.9 L1064.0 1060.3 L1062.2 1062.8 L1060.5 1065.2 L1058.7 1067.7 L1056.9 1070.1 L1055.2 1072.5 L1053.3 1074.9 L1051.5 1077.3 L1049.7 1079.7 L1047.8 1082.0 L1045.9 1084.4 L1044.0 1086.7 L1042.0 1089.0 L1040.1 1091.3 L1038.1 1093.6 L1036.0 1095.8 L1034.0 1098.0 L1031.9 1100.3 L1029.8 1102.4 L1027.6 1104.6 L1025.5 1106.8 L1023.3 1108.9 L1021.0 1111.0 L1018.7 1113.0 L1016.4 1115.1 L1014.0 1117.0 L1011.6 1118.9 L1009.2 1120.6 L1006.7 1122.3 L1004.1 1123.8 L1001.5 1125.2 L998.8 1126.3 L996.0 1127.3 L993.2 1128.1 L990.3 1128.7 L987.4 1129.1 L984.4 1129.3 L981.4 1129.3 L978.4 1129.2 L975.4 1128.9 L972.4 1128.4 L969.4 1127.8 L966.4 1127.0 L963.5 1126.1 L960.6 1125.1 L957.8 1123.9 L955.0 1122.6 L952.4 1121.2 L949.7 1119.7 L947.2 1118.1 L944.7 1116.4 L942.3 1114.6 L939.9 1112.7 L937.6 1110.7 L935.3 1108.7 L933.1 1106.7 L930.9 1104.6 L928.8 1102.4 L926.7 1100.3 L924.6 1098.1 L922.5 1095.9 L920.5 1093.6 L918.5 1091.4 L916.5 1089.1 L914.5 1086.9 L912.5 1084.6 L910.5 1082.4 L908.5 1080.1 L906.4 1077.9 L904.4 1075.7 L902.4 1073.5 L900.3 1071.4 L898.2 1069.3 L896.1 1067.2 L893.9 1065.2 L891.7 1063.2 L889.4 1061.3 L887.1 1059.4 L884.8 1057.6 L882.4 1055.8 L879.9 1054.1 L877.5 1052.4 L874.9 1050.8 L872.4 1049.2 L869.8 1047.6 L867.2 1046.1 L864.6 1044.5 L861.9 1043.1 L859.2 1041.7 L856.5 1040.4 L853.7 1039.1 L850.9 1038.0 L848.1 1036.9 L845.3 1036.0 L842.4 1035.2 L839.5 1034.4 L836.6 1033.8 L833.7 1033.2 L830.7 1032.6 L827.7 1032.1 L824.8 1031.7 L821.8 1031.2 L818.8 1030.8 L815.9 1030.4 L812.9 1030.0 L809.9 1029.6 L806.9 1029.3 L803.9 1028.9 L801.0 1028.6 L798.0 1028.3 L795.0 1028.0 L792.0 1027.7 L789.0 1027.4 L786.0 1027.1 L783.0 1026.8 L780.0 1026.6 L777.0 1026.3 L774.0 1026.1 L771.0 1025.8 L768.0 1025.6 L765.0 1025.4 L762.0 1025.1 L759.0 1024.9 L756.0 1024.7 L753.0 1024.5 L750.0 1024.3 L747.0 1024.0 L744.0 1023.8 L741.0 1023.6 L738.0 1023.4 L735.0 1023.1 L732.0 1022.9 L729.0 1022.7 L726.0 1022.5 L723.0 1022.2 L720.0 1022.0 L717.0 1021.7 L714.0 1021.4 L711.0 1021.2 L708.1 1020.9 L705.1 1020.6 L702.1 1020.3 L699.1 1020.0 L696.1 1019.7 L693.1 1019.3 L690.1 1019.0 L687.1 1018.6 L684.2 1018.3 L681.2 1017.9 L678.2 1017.5 L675.2 1017.1 L672.2 1016.7 L669.3 1016.3 L666.3 1015.9 L663.3 1015.5 L660.3 1015.0 L657.4 1014.6 L654.4 1014.1 L651.4 1013.7 L648.4 1013.2 L645.5 1012.7 L642.5 1012.3 L639.5 1011.8 L636.6 1011.3 L633.6 1010.8 L630.6 1010.3 L627.7 1009.8 L624.7 1009.3 L621.7 1008.8 L618.8 1008.3 L615.8 1007.8 L612.8 1007.3 L609.9 1006.8 L606.9 1006.3 L603.9 1005.8 L601.0 1005.2 L598.0 1004.7 L595.1 1004.2 L592.1 1003.7 L589.1 1003.2 L586.2 1002.7 L583.2 1002.1 L580.2 1001.6 L577.3 1001.1 L574.3 1000.6 L571.3 1000.1 L568.4 999.6 L565.4 999.1 L562.4 998.6 L559.5 998.1 L556.5 997.6 L553.5 997.1 L550.6 996.6 L547.6 996.2 L544.6 995.7 L541.7 995.2 L538.7 994.7 L535.7 994.3 L532.7 993.8 L529.8 993.4 L526.8 992.9 L523.8 992.5 L520.9 992.0 L517.9 991.6 L514.9 991.1 L511.9 990.7 L509.0 990.3 L506.0 989.8 L503.0 989.4 L500.0 989.0 L497.0 988.6 L494.1 988.1 L491.1 987.7 L488.1 987.3 L485.1 986.9 L482.2 986.5 L479.2 986.1 L476.2 985.7 L473.2 985.3 L470.2 984.9 L467.3 984.5 L464.3 984.1 L461.3 983.7 L458.3 983.4 L455.3 983.0 L452.3 982.6 L449.4 982.2 L446.4 981.8 L443.4 981.5 L440.4 981.1 L437.4 980.7 L434.4 980.4 L431.5 980.0 L428.5 979.7 L425.5 979.3 L422.5 978.9 L419.5 978.6 L416.5 978.2 L413.5 977.9 L410.6 977.5 L407.6 977.2 L404.6 976.8 L401.6 976.5 L398.6 976.2 L395.6 975.8 L392.6 975.5 L389.6 975.1 L386.7 974.8 L383.7 974.5 L380.7 974.1 L377.7 973.8 L374.7 973.5 L371.7 973.2 L368.7 972.8 L365.7 972.5 L362.7 972.2 L359.8 971.9 L356.8 971.5 L353.8 971.2 L350.8 970.9 L347.8 970.6 L344.8 970.3 L341.8 970.0 L338.8 969.6 L335.8 969.3 L332.8 969.0 L329.9 968.7 L326.9 968.4 L323.9 968.1 L320.9 967.8 L317.9 967.5 L314.9 967.1 L311.9 966.8 L308.9 966.5 L305.9 966.2 L302.9 965.9 L300.0 965.6 L297.0 965.3 L294.0 965.0 L291.0 964.7" fill="none" stroke="#ff00ff" stroke-width="8.5" stroke-linejoin="round" stroke-linecap="round" shape-rendering="crispEdges"/>
<path d="M291.0 937.4 L294.0 937.1 L296.9 936.7 L299.9 936.4 L302.9 936.1 L305.9 935.8 L308.9 935.5 L311.9 935.3 L314.9 935.0 L317.8 934.8 L320.8 934.6 L323.8 934.5 L326.8 934.3 L329.8 934.1 L332.8 934.0 L335.8 933.9 L338.9 933.8 L341.9 933.6 L344.9 933.6 L347.9 933.5 L350.9 933.4 L353.9 933.3 L356.9 933.3 L359.9 933.2 L362.9 933.2 L365.9 933.1 L369.0 933.1 L372.0 933.0 L375.0 933.0 L378.0 933.0 L381.0 932.9 L384.0 932.9 L387.0 932.9 L390.1 932.9 L393.1 932.8 L396.1 932.8 L399.1 932.7 L402.1 932.7 L405.1 932.7 L408.1 932.6 L411.1 932.5 L414.2 932.5 L417.2 932.4 L420.2 932.3 L423.2 932.3 L426.2 932.2 L429.2 932.1 L432.2 932.0 L435.2 931.9 L438.2 931.8 L441.2 931.7 L444.2 931.6 L447.2 931.5 L450.2 931.4 L453.2 931.3 L456.2 931.1 L459.2 931.0 L462.2 930.9 L465.2 930.8 L468.2 930.6 L471.2 930.5 L474.2 930.4 L477.2 930.2 L480.2 930.1 L483.2 929.9 L486.2 929.8 L489.2 929.6 L492.2 929.5 L495.2 929.3 L498.2 929.2 L501.2 929.0 L504.2 928.9 L507.2 928.7 L510.2 928.5 L513.2 928.4 L516.2 928.2 L519.2 928.1 L522.2 927.9 L525.2 927.7 L528.2 927.6 L531.2 927.4 L534.2 927.2 L537.2 927.1 L540.2 926.9 L543.2 926.7 L546.2 926.6 L549.2 926.4 L552.2 926.2 L555.2 926.1 L558.2 925.9 L561.2 925.8 L564.2 925.6 L567.3 925.4 L570.3 925.3 L573.3 925.1 L576.3 924.9 L579.3 924.8 L582.3 924.6 L585.3 924.4 L588.3 924.3 L591.3 924.1 L594.3 923.9 L597.3 923.8 L600.4 923.6 L603.4 923.4 L606.4 923.2 L609.4 923.0 L612.4 922.9 L615.4 922.7 L618.4 922.5 L621.4 922.3 L624.4 922.1 L627.4 921.9 L630.4 921.7 L633.5 921.5 L636.5 921.2 L639.5 921.0 L642.5 920.8 L645.5 920.6 L648.5 920.3 L651.5 920.1 L654.5 919.8 L657.5 919.6 L660.5 919.3 L663.5 919.0 L666.5 918.8 L669.5 918.5 L672.5 918.2 L675.5 917.9 L678.5 917.6 L681.5 917.3 L684.4 917.0 L687.4 916.7 L690.4 916.3 L693.4 916.0 L696.4 915.6 L699.4 915.3 L702.4 914.9 L705.3 914.5 L708.3 914.1 L711.3 913.7 L714.3 913.3 L717.3 912.9 L720.2 912.5 L723.2 912.0 L726.2 911.6 L729.1 911.1 L732.1 910.7 L735.1 910.2 L738.0 909.7 L741.0 909.2 L743.9 908.7 L746.9 908.1 L749.8 907.6 L752.8 907.0 L755.7 906.5 L758.7 905.9 L761.6 905.3 L764.6 904.7 L767.5 904.1 L770.4 903.5 L773.4 902.8 L776.3 902.1 L779.2 901.5 L782.2 900.8 L785.1 900.1 L788.0 899.4 L790.9 898.6 L793.8 897.9 L796.7 897.1 L799.6 896.3 L802.5 895.6 L805.4 894.8 L808.3 893.9 L811.2 893.1 L814.1 892.3 L817.0 891.4 L819.9 890.5 L822.7 889.6 L825.6 888.7 L828.5 887.8 L831.3 886.9 L834.2 885.9 L837.1 885.0 L839.9 884.0 L842.7 883.0 L845.6 882.0 L848.4 881.0 L851.2 879.9 L854.1 878.9 L856.9 877.8 L859.7 876.7 L862.5 875.6 L865.3 874.5 L868.1 873.4 L870.9 872.2 L873.6 871.1 L876.4 869.9 L879.2 868.7 L882.0 867.5 L884.7 866.3 L887.5 865.1 L890.2 863.8 L892.9 862.6 L895.7 861.3 L898.4 860.0 L901.1 858.8 L903.9 857.5 L906.6 856.2 L909.3 854.9 L912.0 853.5 L914.7 852.2 L917.4 850.9 L920.1 849.5 L922.7 848.2 L925.4 846.8 L928.1 845.5 L930.8 844.1 L933.4 842.8 L936.1 841.4 L938.8 840.0 L941.4 838.6 L944.1 837.2 L946.8 835.9 L949.4 834.5 L952.1 833.1 L954.7 831.7 L957.4 830.3 L960.0 828.9 L962.7 827.6 L965.4 826.2 L968.0 824.8 L970.7 823.4 L973.4 822.0 L976.0 820.7 L978.7 819.3 L981.4 817.9 L984.1 816.6 L986.7 815.2 L989.4 813.9 L992.1 812.5 L994.8 811.2 L997.5 809.8 L1000.2 808.5 L1003.0 807.2 L1005.7 805.9 L1008.4 804.6 L1011.2 803.3 L1013.9 802.0 L1016.7 800.8 L1019.4 799.5 L1022.2 798.2 L1024.9 797.0 L1027.7 795.7 L1030.5 794.5 L1033.2 793.2 L1036.0 792.0 L1038.7 790.7 L1041.5 789.4 L1044.2 788.1 L1046.9 786.8 L1049.6 785.4 L1052.3 784.1 L1055.0 782.7 L1057.6 781.3 L1060.3 779.8 L1062.9 778.4 L1065.5 776.8 L1068.0 775.3 L1070.5 773.7 L1073.0 772.1 L1075.5 770.4 L1077.9 768.7 L1080.3 766.9 L1082.6 765.1 L1085.0 763.2 L1087.2 761.3 L1089.5 759.3 L1091.7 757.3 L1093.9 755.3 L1096.0 753.2 L1098.2 751.1 L1100.2 748.9 L1102.3 746.7 L1104.3 744.5 L1106.3 742.3 L1108.3 740.0 L1110.3 737.7 L1112.2 735.4 L1114.1 733.0 L1116.0 730.6 L1117.8 728.2 L1119.6 725.8 L1121.5 723.4 L1123.2 721.0 L1125.0 718.5 L1126.8 716.1 L1128.5 713.6 L1130.2 711.1 L1131.9 708.7 L1133.6 706.2 L1135.3 703.7 L1137.0 701.2 L1138.6 698.7 L1140.3 696.2 L1141.9 693.7 L1143.5 691.2 L1145.2 688.7 L1146.8 686.1 L1148.4 683.6 L1150.1 681.1 L1151.7 678.6 L1153.3 676.1 L1155.0 673.6 L1156.6 671.1 L1158.3 668.5 L1159.9 666.0 L1161.6 663.5 L1163.2 661.0 L1164.9 658.5 L1166.6 656.0 L1168.2 653.5 L1169.9 651.0 L1171.5 648.5 L1173.2 645.9 L1174.8 643.4 L1176.5 640.9 L1178.1 638.4 L1179.8 635.8 L1181.4 633.3 L1183.0 630.8 L1184.6 628.2 L1186.2 625.7 L1187.8 623.1 L1189.4 620.5 L1190.9 618.0 L1192.5 615.4 L1194.0 612.8 L1195.6 610.2 L1197.1 607.6 L1198.6 605.0 L1200.1 602.4 L1201.6 599.8 L1203.1 597.2 L1204.5 594.6 L1206.0 592.0 L1207.5 589.3 L1208.9 586.7 L1210.4 584.1 L1211.8 581.4 L1213.2 578.8 L1214.6 576.1 L1216.0 573.5 L1217.4 570.8 L1218.8 568.1 L1220.2 565.5 L1221.6 562.8 L1222.9 560.1 L1224.3 557.4 L1225.6 554.8 L1227.0 552.1 L1228.3 549.4 L1229.6 546.7 L1231.0 544.0 L1232.3 541.3 L1233.6 538.6 L1234.9 535.9 L1236.2 533.1 L1237.5 530.4 L1238.7 527.7 L1240.0 525.0 L1241.3 522.3 L1242.5 519.5 L1243.8 516.8 L1245.0 514.1 L1246.3 511.3 L1247.5 508.6 L1248.8 505.8 L1250.0 503.1 L1251.2 500.3 L1252.4 497.6 L1253.6 494.8 L1254.8 492.1 L1256.0 489.3 L1257.2 486.6 L1258.4 483.8 L1259.6 481.0 L1260.8 478.3 L1262.0 475.5 L1263.2 472.7 L1264.3 470.0 L1265.5 467.2 L1266.7 464.4 L1267.8 461.6 L1269.0 458.9 L1270.2 456.1 L1271.3 453.3 L1272.5 450.5 L1273.6 447.8 L1274.7 445.0 L1275.9 442.2 L1277.0 439.4 L1278.2 436.6 L1279.3 433.8 L1280.4 431.1 L1281.6 428.3 L1282.7 425.5 L1283.8 422.7 L1284.9 419.9 L1286.1 417.1 L1287.2 414.3 L1288.3 411.5 L1289.4 408.7 L1290.5 406.0 L1291.6 403.2 L1292.7 400.4 L1293.9 397.6 L1295.0 394.8 L1296.1 392.0 L1297.2 389.2 L1298.3 386.4 L1299.4 383.6 L1300.5 380.8 L1301.6 378.0 L1302.7 375.2 L1303.8 372.4 L1304.9 369.6 L1306.0 366.8 L1307.1 364.0 L1308.3 361.2 L1309.4 358.4 L1310.6 355.6 L1311.7 352.8 L1312.9 350.0 L1314.1 347.3 L1315.3 344.5 L1316.5 341.8 L1317.7 339.0 L1319.0 336.3 L1320.3 333.6 L1321.6 330.9 L1322.9 328.2 L1324.2 325.5 L1325.6 322.9 L1327.0 320.2 L1328.4 317.5 L1329.8 314.9 L1331.2 312.3 L1332.7 309.6 L1334.1 307.0 L1335.6 304.4 L1337.0 301.7 L1338.5 299.1 L1340.0 296.5 L1341.5 293.9 L1342.9 291.3 L1344.4 288.7 L1345.9 286.0 L1347.4 283.4 L1348.9 280.8 L1350.4 278.2 L1351.9 275.6 L1353.5 273.0 L1355.2 270.6 L1357.0 268.1 L1358.9 265.8 L1360.9 263.6 L1363.2 261.5 L1365.5 259.5 L1368.1 257.7 L1370.9 256.1 L1373.8 254.7 L1376.7 253.7 L1379.6 253.1 L1382.4 253.0 L1385.0 253.6 L1387.4 254.7 L1389.7 256.2 L1391.7 258.2 L1393.7 260.5 L1395.4 262.9 L1397.1 265.6 L1398.6 268.3 L1400.0 271.0 L1401.3 273.7 L1402.5 276.5 L1403.6 279.3 L1404.7 282.2 L1405.7 285.0 L1406.6 287.9 L1407.5 290.7 L1408.4 293.6 L1409.3 296.5 L1410.2 299.4 L1411.0 302.3 L1411.9 305.1 L1412.7 308.0 L1413.6 310.9 L1414.5 313.8 L1415.3 316.7 L1416.2 319.6 L1417.0 322.4 L1417.9 325.3 L1418.7 328.2 L1419.6 331.1 L1420.4 334.0 L1421.3 336.9 L1422.1 339.7 L1422.9 342.6 L1423.8 345.5 L1424.6 348.4 L1425.4 351.3 L1426.3 354.2 L1427.1 357.1 L1427.9 359.9 L1428.8 362.8 L1429.6 365.7 L1430.4 368.6 L1431.2 371.5 L1432.0 374.4 L1432.9 377.3 L1433.7 380.2 L1434.5 383.1 L1435.3 386.0 L1436.1 388.8 L1436.9 391.7 L1437.7 394.6 L1438.5 397.5 L1439.3 400.4 L1440.1 403.3 L1440.9 406.2 L1441.7 409.1 L1442.4 412.0 L1443.2 414.9 L1444.0 417.8 L1444.8 420.8 L1445.6 423.7 L1446.4 426.6 L1447.1 429.5 L1447.9 432.4 L1448.7 435.3 L1449.5 438.2 L1450.3 441.1 L1451.1 444.0 L1451.8 446.9 L1452.6 449.8 L1453.4 452.7 L1454.2 455.6 L1455.0 458.5 L1455.8 461.4 L1456.6 464.3 L1457.4 467.2 L1458.2 470.1 L1459.1 473.0 L1459.9 475.9 L1460.7 478.8 L1461.5 481.7 L1462.4 484.6 L1463.2 487.5 L1464.1 490.4 L1464.9 493.3 L1465.8 496.2 L1466.6 499.0 L1467.5 501.9 L1468.4 504.8 L1469.3 507.7 L1470.2 510.5 L1471.1 513.4 L1472.0 516.3 L1472.9 519.1 L1473.9 522.0 L1474.8 524.8 L1475.8 527.7 L1476.7 530.6 L1477.7 533.4 L1478.7 536.2 L1479.7 539.1 L1480.7 541.9 L1481.7 544.7 L1482.7 547.6 L1483.8 550.4 L1484.8 553.2 L1485.9 556.0 L1487.0 558.8 L1488.0 561.6 L1489.2 564.4 L1490.3 567.2 L1491.4 570.0 L1492.6 572.8 L1493.7 575.6 L1494.9 578.3 L1496.1 581.1 L1497.3 583.9 L1498.6 586.6 L1499.8 589.3 L1501.1 592.0 L1502.4 594.8 L1503.7 597.4 L1505.1 600.1 L1506.5 602.8 L1507.9 605.5 L1509.3 608.1 L1510.7 610.7 L1512.2 613.3 L1513.7 615.9 L1515.2 618.5 L1516.8 621.1 L1518.4 623.6 L1520.0 626.1 L1521.7 628.6 L1523.4 631.1 L1525.1 633.5 L1526.8 636.0 L1528.6 638.4 L1530.5 640.8 L1532.3 643.1 L1534.2 645.5 L1536.1 647.8 L1538.1 650.1 L1540.1 652.3 L1542.2 654.6 L1544.3 656.7 L1546.4 658.9 L1548.6 661.0 L1550.8 663.0 L1553.1 665.0 L1555.4 667.0 L1557.7 668.9 L1560.1 670.7 L1562.5 672.5 L1565.0 674.2 L1567.5 675.8 L1570.0 677.4 L1572.6 678.9 L1575.2 680.4 L1577.9 681.8 L1580.5 683.1 L1583.2 684.4 L1586.0 685.7 L1588.7 686.9 L1591.5 688.1 L1594.3 689.2 L1597.1 690.4 L1599.9 691.4 L1602.7 692.5 L1605.6 693.6 L1608.4 694.6 L1611.2 695.6 L1614.1 696.5 L1616.9 697.5 L1619.8 698.4 L1622.7 699.3 L1625.6 700.1 L1628.5 700.9 L1631.4 701.7 L1634.3 702.4 L1637.2 703.1 L1640.1 703.7 L1643.0 704.3 L1646.0 704.9 L1648.9 705.4 L1651.9 705.8 L1654.9 706.2 L1657.9 706.6 L1660.9 706.8 L1663.9 707.1 L1666.9 707.2 L1670.0 707.3 L1673.1 707.4 L1673.0 710.5 L1673.0 713.5 L1672.8 716.5 L1672.6 719.5 L1672.3 722.5 L1672.0 725.5 L1671.6 728.4 L1671.2 731.4 L1670.7 734.3 L1670.2 737.2 L1669.6 740.2 L1669.1 743.1 L1668.4 746.0 L1667.8 748.9 L1667.2 751.9 L1666.5 754.8 L1665.8 757.8 L1665.1 760.8 L1664.4 763.7 L1663.7 766.7 L1662.9 769.7 L1662.1 772.6 L1661.2 775.6 L1660.3 778.5 L1659.4 781.4 L1658.4 784.3 L1657.3 787.2 L1656.2 790.0 L1655.0 792.8 L1653.7 795.5 L1652.4 798.2 L1651.0 800.8 L1649.4 803.4 L1647.8 805.9 L1646.1 808.4 L1644.2 810.7 L1642.3 813.0 L1640.2 815.2 L1638.1 817.4 L1635.9 819.4 L1633.6 821.4 L1631.3 823.2 L1628.9 825.0 L1626.4 826.6 L1623.9 828.2 L1621.4 829.6 L1618.8 831.0 L1616.2 832.3 L1613.6 833.5 L1610.9 834.6 L1608.1 835.6 L1605.4 836.6 L1602.6 837.5 L1599.7 838.3 L1596.9 839.0 L1594.0 839.7 L1591.1 840.3 L1588.2 840.9 L1585.2 841.4 L1582.2 841.9 L1579.2 842.3 L1576.2 842.7 L1573.2 843.1 L1570.2 843.4 L1567.1 843.6 L1564.0 843.9 L1561.0 844.1 L1557.9 844.3 L1554.8 844.4 L1551.7 844.6 L1548.6 844.7 L1545.6 844.9 L1542.5 845.0 L1539.4 845.1 L1536.3 845.2 L1533.3 845.4 L1530.2 845.5 L1527.1 845.6 L1524.1 845.7 L1521.0 845.8 L1518.0 846.0 L1515.0 846.1 L1511.9 846.2 L1508.9 846.3 L1505.9 846.4 L1502.8 846.6 L1499.8 846.7 L1496.8 846.8 L1493.8 846.9 L1490.8 847.0 L1487.8 847.2 L1484.8 847.3 L1481.8 847.4 L1478.8 847.5 L1475.8 847.7 L1472.8 847.8 L1469.8 847.9 L1466.8 848.0 L1463.8 848.2 L1460.8 848.3 L1457.9 848.4 L1454.9 848.5 L1451.9 848.6 L1448.9 848.8 L1445.9 848.9 L1443.0 849.0 L1440.0 849.1 L1437.0 849.3 L1434.0 849.4 L1431.0 849.5 L1428.1 849.6 L1425.1 849.8 L1422.1 849.9 L1419.1 850.0 L1416.1 850.1 L1413.1 850.3 L1410.2 850.4 L1407.2 850.5 L1404.2 850.6 L1401.2 850.8 L1398.2 850.9 L1395.2 851.0 L1392.2 851.2 L1389.2 851.3 L1386.2 851.4 L1383.2 851.5 L1380.2 851.7 L1377.2 851.8 L1374.2 851.9 L1371.2 852.1 L1368.1 852.2 L1365.1 852.3 L1362.1 852.5 L1359.1 852.6 L1356.1 852.7 L1353.1 852.9 L1350.0 853.0 L1347.0 853.2 L1344.0 853.3 L1341.0 853.5 L1338.0 853.7 L1334.9 853.8 L1331.9 854.0 L1328.9 854.2 L1325.9 854.3 L1322.9 854.5 L1319.8 854.7 L1316.8 854.9 L1313.8 855.1 L1310.8 855.3 L1307.8 855.5 L1304.8 855.7 L1301.7 855.9 L1298.7 856.2 L1295.7 856.4 L1292.7 856.6 L1289.7 856.9 L1286.7 857.1 L1283.7 857.4 L1280.7 857.7 L1277.7 857.9 L1274.7 858.2 L1271.7 858.5 L1268.7 858.9 L1265.7 859.2 L1262.8 859.6 L1259.8 859.9 L1256.8 860.3 L1253.8 860.7 L1250.9 861.2 L1247.9 861.6 L1244.9 862.1 L1242.0 862.6 L1239.0 863.1 L1236.1 863.7 L1233.1 864.2 L1230.2 864.8 L1227.3 865.5 L1224.4 866.1 L1221.4 866.8 L1218.5 867.5 L1215.6 868.3 L1212.7 869.0 L1209.8 869.8 L1206.9 870.7 L1204.0 871.6 L1201.2 872.5 L1198.3 873.4 L1195.5 874.4 L1192.6 875.4 L1189.8 876.5 L1187.0 877.6 L1184.2 878.7 L1181.4 879.9 L1178.6 881.1 L1175.9 882.3 L1173.1 883.6 L1170.4 885.0 L1167.7 886.3 L1165.1 887.7 L1162.4 889.2 L1159.8 890.7 L1157.2 892.2 L1154.7 893.8 L1152.1 895.4 L1149.6 897.1 L1147.2 898.8 L1144.7 900.5 L1142.3 902.3 L1139.9 904.2 L1137.6 906.1 L1135.3 908.0 L1133.0 910.0 L1130.8 912.0 L1128.6 914.1 L1126.5 916.2 L1124.4 918.3 L1122.3 920.5 L1120.2 922.7 L1118.2 924.9 L1116.2 927.2 L1114.2 929.5 L1112.2 931.8 L1110.2 934.1 L1108.2 936.4 L1106.3 938.7 L1104.3 941.0 L1102.4 943.3 L1100.4 945.6 L1098.5 947.9 L1096.6 950.2 L1094.6 952.5 L1092.7 954.8 L1090.8 957.1 L1088.8 959.3 L1086.9 961.6 L1085.0 963.9 L1083.0 966.2 L1081.1 968.5 L1079.2 970.8 L1077.3 973.1 L1075.3 975.3 L1073.4 977.6 L1071.5 979.9 L1069.6 982.2 L1067.7 984.5 L1065.8 986.8 L1063.8 989.1 L1061.9 991.4 L1060.0 993.7 L1058.1 996.0 L1056.2 998.3 L1054.3 1000.6 L1052.4 1003.0 L1050.5 1005.3 L1048.6 1007.6 L1046.7 1010.0 L1044.8 1012.3 L1042.9 1014.7 L1040.9 1017.1 L1039.0 1019.4 L1037.0 1021.8 L1035.0 1024.1 L1033.0 1026.4 L1030.9 1028.7 L1028.8 1030.9 L1026.6 1033.1 L1024.4 1035.3 L1022.1 1037.3 L1019.8 1039.3 L1017.4 1041.2 L1015.0 1043.0 L1012.5 1044.7 L1010.0 1046.3 L1007.4 1047.7 L1004.7 1049.0 L1002.0 1050.2 L999.2 1051.2 L996.4 1052.0 L993.5 1052.7 L990.5 1053.2 L987.5 1053.5 L984.5 1053.6 L981.5 1053.6 L978.6 1053.4 L975.6 1053.1 L972.7 1052.6 L969.9 1051.9 L967.1 1051.2 L964.3 1050.3 L961.6 1049.2 L958.9 1048.1 L956.2 1046.8 L953.6 1045.5 L950.9 1044.0 L948.3 1042.5 L945.8 1040.9 L943.2 1039.3 L940.7 1037.6 L938.2 1035.8 L935.7 1034.0 L933.2 1032.1 L930.7 1030.3 L928.3 1028.4 L925.8 1026.5 L923.3 1024.6 L920.9 1022.7 L918.4 1020.8 L916.0 1019.0 L913.5 1017.1 L911.1 1015.3 L908.6 1013.5 L906.1 1011.7 L903.7 1010.0 L901.2 1008.3 L898.7 1006.6 L896.2 1005.0 L893.6 1003.3 L891.1 1001.8 L888.6 1000.2 L886.0 998.7 L883.4 997.2 L880.8 995.8 L878.2 994.4 L875.6 993.1 L872.9 991.8 L870.2 990.5 L867.5 989.3 L864.8 988.1 L862.1 987.0 L859.3 985.9 L856.6 984.8 L853.8 983.7 L851.0 982.7 L848.2 981.8 L845.4 980.8 L842.5 979.9 L839.7 979.1 L836.8 978.2 L834.0 977.4 L831.1 976.6 L828.2 975.9 L825.3 975.2 L822.3 974.4 L819.4 973.8 L816.5 973.1 L813.5 972.5 L810.6 971.9 L807.6 971.3 L804.7 970.7 L801.7 970.1 L798.7 969.6 L795.7 969.1 L792.7 968.6 L789.7 968.1 L786.7 967.6 L783.7 967.2 L780.7 966.7 L777.7 966.3 L774.7 965.9 L771.7 965.5 L768.7 965.1 L765.6 964.7 L762.6 964.3 L759.6 963.9 L756.6 963.5 L753.6 963.1 L750.6 962.8 L747.6 962.4 L744.5 962.0 L741.5 961.7 L738.5 961.3 L735.5 961.0 L732.5 960.6 L729.5 960.3 L726.5 960.0 L723.5 959.6 L720.5 959.3 L717.5 959.0 L714.5 958.7 L711.5 958.4 L708.5 958.1 L705.5 957.8 L702.5 957.5 L699.5 957.2 L696.5 956.9 L693.5 956.6 L690.5 956.3 L687.5 956.0 L684.5 955.7 L681.5 955.5 L678.5 955.2 L675.5 954.9 L672.5 954.7 L669.5 954.4 L666.6 954.2 L663.6 953.9 L660.6 953.7 L657.6 953.4 L654.6 953.2 L651.6 953.0 L648.6 952.7 L645.6 952.5 L642.6 952.3 L639.6 952.0 L636.6 951.8 L633.6 951.6 L630.7 951.4 L627.7 951.2 L624.7 951.0 L621.7 950.8 L618.7 950.6 L615.7 950.4 L612.7 950.2 L609.7 950.0 L606.7 949.8 L603.7 949.6 L600.7 949.4 L597.8 949.2 L594.8 949.1 L591.8 948.9 L588.8 948.7 L585.8 948.5 L582.8 948.4 L579.8 948.2 L576.8 948.0 L573.8 947.9 L570.8 947.7 L567.8 947.5 L564.8 947.4 L561.8 947.2 L558.8 947.1 L555.8 946.9 L552.8 946.8 L549.8 946.6 L546.8 946.5 L543.8 946.4 L540.8 946.2 L537.8 946.1 L534.8 945.9 L531.8 945.8 L528.8 945.7 L525.8 945.5 L522.8 945.4 L519.8 945.3 L516.7 945.2 L513.7 945.0 L510.7 944.9 L507.7 944.8 L504.7 944.7 L501.7 944.6 L498.7 944.4 L495.7 944.3 L492.7 944.2 L489.7 944.1 L486.6 944.0 L483.6 943.9 L480.6 943.8 L477.6 943.7 L474.6 943.6 L471.6 943.5 L468.6 943.3 L465.5 943.2 L462.5 943.1 L459.5 943.0 L456.5 942.9 L453.5 942.8 L450.5 942.7 L447.5 942.6 L444.4 942.5 L441.4 942.4 L438.4 942.4 L435.4 942.3 L432.4 942.2 L429.4 942.1 L426.4 942.0 L423.3 941.9 L420.3 941.8 L417.3 941.7 L414.3 941.6 L411.3 941.5 L408.3 941.4 L405.3 941.3 L402.2 941.3 L399.2 941.2 L396.2 941.1 L393.2 941.0 L390.2 940.9 L387.2 940.8 L384.2 940.7 L381.2 940.6 L378.1 940.5 L375.1 940.4 L372.1 940.4 L369.1 940.3 L366.1 940.2 L363.1 940.1 L360.1 940.0 L357.1 939.9 L354.1 939.8 L351.1 939.7 L348.1 939.6 L345.0 939.6 L342.0 939.5 L339.0 939.4 L336.0 939.3 L333.0 939.2 L330.0 939.1 L327.0 939.0 L324.0 938.9 L321.0 938.8 L318.0 938.7 L315.0 938.6 L312.0 938.5 L309.0 938.4 L306.0 938.3 L303.0 938.2 L300.0 938.1 L297.0 938.0 L294.0 937.9 L291.1 937.8" fill="none" stroke="#ff8000" stroke-width="8.5" stroke-linejoin="round" stroke-linecap="round" shape-rendering="crispEdges"/>
<g fill="#000">
<rect x="213" y="49" width="1540" height="4"/>
<rect x="213" y="49" width="4" height="1135"/>
<rect x="1748" y="49" width="5" height="1135"/>
<rect x="192" y="1179" width="1561" height="5"/>
<rect x="192" y="49" width="23" height="4"/>
<rect x="203" y="112" width="12" height="4"/>
<rect x="192" y="175" width="23" height="4"/>
<rect x="203" y="237" width="12" height="4"/>
<rect x="192" y="300" width="23" height="4"/>
<rect x="203" y="363" width="12" height="4"/>
<rect x="192" y="426" width="23" height="4"/>
<rect x="203" y="489" width="12" height="4"/>
<rect x="192" y="552" width="23" height="4"/>
<rect x="203" y="614" width="12" height="4"/>
<rect x="192" y="677" width="23" height="4"/>
<rect x="203" y="740" width="12" height="4"/>
<rect x="192" y="803" width="23" height="4"/>
<rect x="203" y="866" width="12" height="4"/>
<rect x="192" y="929" width="23" height="4"/>
<rect x="203" y="992" width="12" height="4"/>
<rect x="192" y="1054" width="23" height="4"/>
<rect x="203" y="1117" width="12" height="4"/>
<rect x="192" y="1180" width="23" height="4"/>
<rect x="212" y="1181" width="5" height="23"/>
<rect x="404" y="1181" width="5" height="12"/>
<rect x="596" y="1181" width="5" height="23"/>
<rect x="788" y="1181" width="5" height="12"/>
<rect x="980" y="1181" width="5" height="23"/>
<rect x="1172" y="1181" width="5" height="12"/>
<rect x="1364" y="1181" width="5" height="23"/>
<rect x="1556" y="1181" width="5" height="12"/>
<rect x="1748" y="1181" width="5" height="23"/>
</g>
<g font-weight="bold" font-size="56" fill="#000">
<text x="176" y="68.0" text-anchor="end">60</text>
<text x="176" y="193.6" text-anchor="end">50</text>
<text x="176" y="319.3" text-anchor="end">40</text>
<text x="176" y="445.0" text-anchor="end">30</text>
<text x="176" y="570.7" text-anchor="end">20</text>
<text x="176" y="696.3" text-anchor="end">10</text>
<text x="176" y="822.0" text-anchor="end">0</text>
<text x="176" y="947.7" text-anchor="end">-<tspan dx="-2.5">10</tspan></text>
<text x="176" y="1073.3" text-anchor="end">-<tspan dx="-2.5">20</tspan></text>
<text x="176" y="1199.0" text-anchor="end">-<tspan dx="-2.5">30</tspan></text>
<text x="215.0" y="1263" text-anchor="middle">-<tspan dx="-2">1.5</tspan></text>
<text x="598.9" y="1263" text-anchor="middle">-<tspan dx="-2">1.0</tspan></text>
<text x="982.8" y="1263" text-anchor="middle">-<tspan dx="-2">0.5</tspan></text>
<text x="1366.6" y="1263" text-anchor="middle">0.0</text>
<text x="1750.5" y="1263" text-anchor="middle">0.5</text>
</g>
<text x="983" y="1357" text-anchor="middle" font-weight="bold" font-size="55">Potential vs Ag/AgCl (V)</text>
<text transform="translate(73 616) rotate(-90)" text-anchor="middle" font-weight="bold" font-size="56">Current (uA)</text>
<line x1="269.8" y1="121.5" x2="394.3" y2="121.5" stroke="#00ffff" stroke-width="9" stroke-linecap="round" shape-rendering="crispEdges"/>
<text x="409" y="140.0" font-size="52" letter-spacing="2.05" stroke="#000" stroke-width="0.3">4 / 450 mJ/cm<tspan font-size="41" dy="-24.5" dx="0">2</tspan></text>
<line x1="269.8" y1="200.6" x2="394.3" y2="200.6" stroke="#ff00ff" stroke-width="9" stroke-linecap="round" shape-rendering="crispEdges"/>
<text x="409" y="219.1" font-size="52" letter-spacing="2.05" stroke="#000" stroke-width="0.3">5 / 600 mJ/cm<tspan font-size="41" dy="-24.5" dx="0">2</tspan></text>
<line x1="269.8" y1="279.7" x2="394.3" y2="279.7" stroke="#ff8000" stroke-width="9" stroke-linecap="round" shape-rendering="crispEdges"/>
<text x="409" y="298.2" font-size="52" letter-spacing="2.05" stroke="#000" stroke-width="0.3">6 / 750 mJ/cm<tspan font-size="41" dy="-24.5" dx="0">2</tspan></text>
</svg></body></html>
